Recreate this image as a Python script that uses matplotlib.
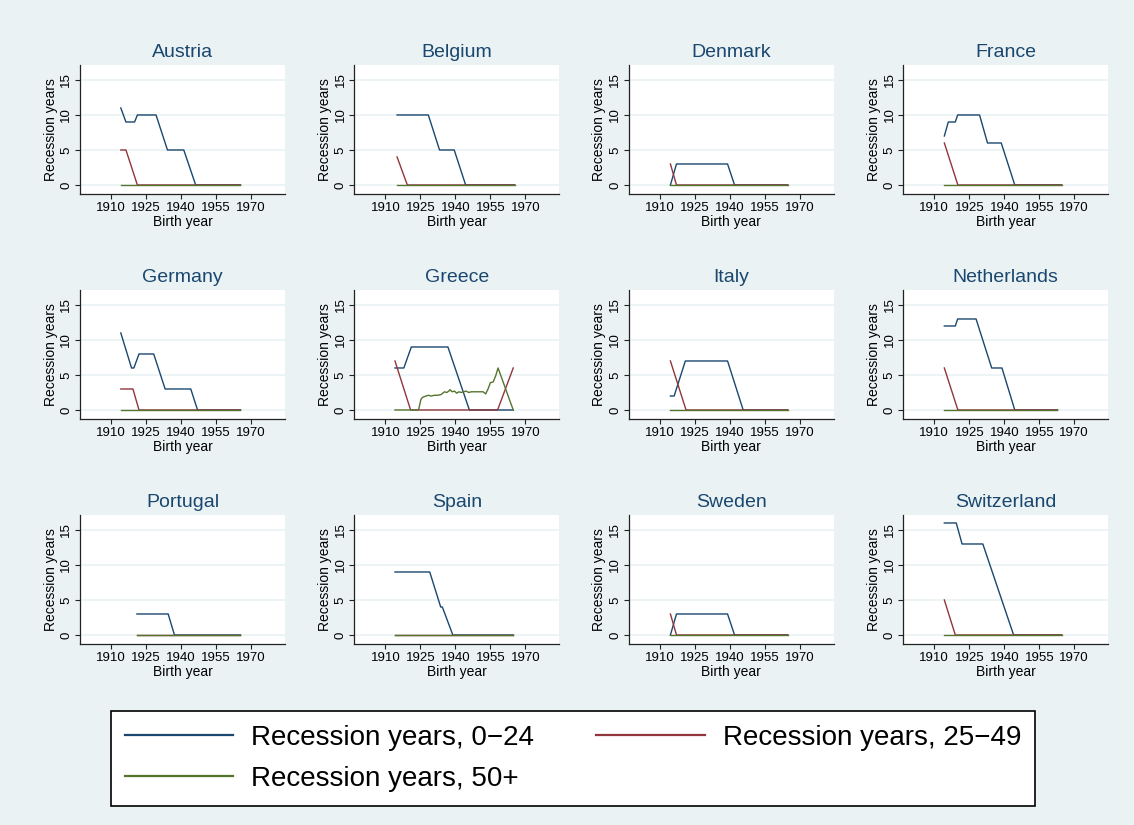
import matplotlib
matplotlib.use("Agg")
import matplotlib.pyplot as plt
import numpy as np

plt.rcParams['font.family'] = ['Liberation Sans', 'DejaVu Sans']

countries = ["Austria", "Belgium", "Denmark", "France",
             "Germany", "Greece", "Italy", "Netherlands",
             "Portugal", "Spain", "Sweden", "Switzerland"]

# breakpoints (birth year, recession years)
rec_0_24 = {
    "Austria": [(1914.2, 11), (1916.4, 9), (1920.1, 9), (1921.3, 10), (1929.3, 10), (1934.2, 5), (1941.2, 5), (1946.3, 0), (1965.5, 0)],
    "Belgium": [(1915.0, 10), (1928.4, 10), (1933.2, 5), (1939.5, 5), (1944.4, 0), (1965.4, 0)],
    "Denmark": [(1914.5, 0), (1917.1, 3), (1939.0, 3), (1942.0, 0), (1964.8, 0)],
    "France": [(1914.3, 7), (1916.0, 9), (1919.0, 9), (1920.0, 10), (1929.4, 10), (1932.8, 6), (1938.7, 6), (1944.5, 0), (1964.6, 0)],
    "Germany": [(1914.2, 11), (1918.8, 6), (1919.8, 6), (1922.0, 8), (1928.3, 8), (1933.2, 3), (1944.2, 3), (1947.1, 0), (1965.5, 0)],
    "Greece": [(1914.1, 6), (1917.9, 6), (1921.1, 9), (1936.8, 9), (1946.0, 0), (1964.8, 0)],
    "Italy": [(1914.5, 2), (1916.1, 2), (1920.9, 7), (1939.0, 7), (1945.7, 0), (1964.8, 0)],
    "Netherlands": [(1914.3, 12), (1919.0, 12), (1920.0, 13), (1927.9, 13), (1934.6, 6), (1939.0, 6), (1944.5, 0), (1962.8, 0)],
    "Portugal": [(1921.1, 3), (1934.5, 3), (1937.2, 0), (1965.5, 0)],
    "Spain": [(1914.1, 9), (1929.0, 9), (1933.7, 4), (1934.4, 4), (1938.9, 0), (1964.8, 0)],
    "Sweden": [(1914.5, 0), (1917.1, 3), (1939.0, 3), (1942.0, 0), (1964.8, 0)],
    "Switzerland": [(1914.3, 16), (1919.4, 16), (1921.9, 13), (1930.8, 13), (1944.0, 0), (1964.6, 0)],
}

rec_25_49 = {
    "Austria": [(1914.2, 5), (1916.4, 5), (1921.3, 0), (1965.5, 0)],
    "Belgium": [(1915.0, 4), (1919.4, 0), (1965.4, 0)],
    "Denmark": [(1914.5, 3), (1917.1, 0), (1964.8, 0)],
    "France": [(1914.3, 6), (1920.1, 0), (1964.6, 0)],
    "Germany": [(1914.2, 3), (1919.4, 3), (1922.0, 0), (1965.5, 0)],
    "Greece": [(1914.1, 7), (1920.8, 0), (1958.1, 0), (1964.8, 6)],
    "Italy": [(1914.5, 7), (1921.2, 0), (1964.8, 0)],
    "Netherlands": [(1914.3, 6), (1920.1, 0), (1962.8, 0)],
    "Portugal": [(1921.1, 0), (1965.5, 0)],
    "Spain": [(1914.1, 0), (1964.8, 0)],
    "Sweden": [(1914.5, 3), (1917.1, 0), (1964.8, 0)],
    "Switzerland": [(1914.3, 5), (1919.0, 0), (1964.6, 0)],
}

rec_50p = {
    "Austria": [(1914.2, 0), (1965.5, 0)],
    "Belgium": [(1915.0, 0), (1965.4, 0)],
    "Denmark": [(1914.5, 0), (1964.8, 0)],
    "France": [(1914.3, 0), (1964.6, 0)],
    "Germany": [(1914.2, 0), (1965.5, 0)],
    "Greece": [(1914.1, 0), (1924.2, 0), (1925.2, 1.5), (1925.9, 1.8), (1927.4, 2.0), (1928.5, 2.1),
               (1929.5, 2.0), (1931.0, 2.1), (1932.4, 2.1), (1933.8, 2.2), (1934.6, 2.4), (1935.3, 2.6),
               (1936.3, 2.5), (1937.2, 2.7), (1937.7, 2.9), (1938.6, 2.6), (1939.6, 2.7), (1940.6, 2.4),
               (1941.5, 2.6), (1942.5, 2.5), (1943.5, 2.6), (1944.6, 2.7), (1945.7, 2.5), (1946.8, 2.6),
               (1948.3, 2.6), (1950.4, 2.6), (1951.9, 2.6), (1953.0, 2.3), (1954.0, 3.0), (1955.0, 3.9),
               (1956.2, 4.0), (1957.3, 4.9), (1958.3, 6.0), (1964.8, 0)],
    "Italy": [(1914.5, 0), (1964.8, 0)],
    "Netherlands": [(1914.3, 0), (1962.8, 0)],
    "Portugal": [(1921.1, 0), (1965.5, 0)],
    "Spain": [(1914.1, 0), (1964.8, 0)],
    "Sweden": [(1914.5, 0), (1964.8, 0)],
    "Switzerland": [(1914.3, 0), (1964.6, 0)],
}

series_labels = ["Recession years, 0\u221224", "Recession years, 25\u221249", "Recession years, 50+"]
series_colors = ["#1a476f", "#90353b", "#55752f"]
xticks = [1910, 1925, 1940, 1955, 1970]
yticks = [0, 5, 10, 15]

bg = "#eaf2f3"
W, H = 1134, 825
fig = plt.figure(figsize=(W / 100, H / 100), dpi=100, facecolor=bg)

# panel placement in pixels
col_left = [80, 354.4, 628.9, 903.3]
row_top = [65, 290, 515]
pw, ph = 205, 129.3

handles = []
for i, c in enumerate(countries):
    r, k = divmod(i, 4)
    ax = fig.add_axes([col_left[k] / W, 1 - (row_top[r] + ph) / H, pw / W, ph / H])
    ax.set_facecolor("white")
    for data, col in zip([rec_0_24, rec_25_49, rec_50p], series_colors):
        pts = np.array(data[c])
        l, = ax.plot(pts[:, 0], pts[:, 1], color=col, lw=1.0, zorder=3)
        if i == 0:
            handles.append(l)
    ax.set_xlim(1896.7, 1984.6)
    ax.set_ylim(-1.33, 17.14)
    ax.set_xticks(xticks)
    ax.set_yticks(yticks)
    ax.grid(axis="y", color=bg, lw=1.2, zorder=0)
    ax.set_axisbelow(True)
    for s in ["top", "right"]:
        ax.spines[s].set_visible(False)
    for s in ["left", "bottom"]:
        ax.spines[s].set_color("#222222")
        ax.spines[s].set_linewidth(0.9)
    ax.tick_params(direction="out", length=3.5, width=0.8, color="#222222", labelsize=9.5, pad=2)
    plt.setp(ax.get_yticklabels(), rotation=90, va="center")
    ax.set_title(c, fontsize=14, color="#1a476f", pad=6)
    ax.set_xlabel("Birth year", fontsize=10, labelpad=0.5)
    ax.set_ylabel("Recession years", fontsize=10, labelpad=2)

x0, x1, y0, y1 = 110.7, 1035, 710.7, 804
leg = fig.legend([handles[0], handles[2], handles[1]],
                 [series_labels[0], series_labels[2], series_labels[1]],
                 ncol=2, loc="upper left", mode="expand",
                 bbox_to_anchor=(x0 / W, 1 - y1 / H, (x1 - x0) / W, (y1 - y0) / H),
                 borderaxespad=0, fontsize=20, frameon=True, fancybox=False,
                 edgecolor="black", facecolor="white", framealpha=1,
                 handlelength=3.9, handletextpad=0.65, columnspacing=1.7,
                 labelspacing=0.55, borderpad=0.5)
leg.get_frame().set_linewidth(1.2)
for lh in leg.get_lines():
    lh.set_linewidth(1.6)

fig.savefig("out.png", dpi=100, facecolor=bg)
